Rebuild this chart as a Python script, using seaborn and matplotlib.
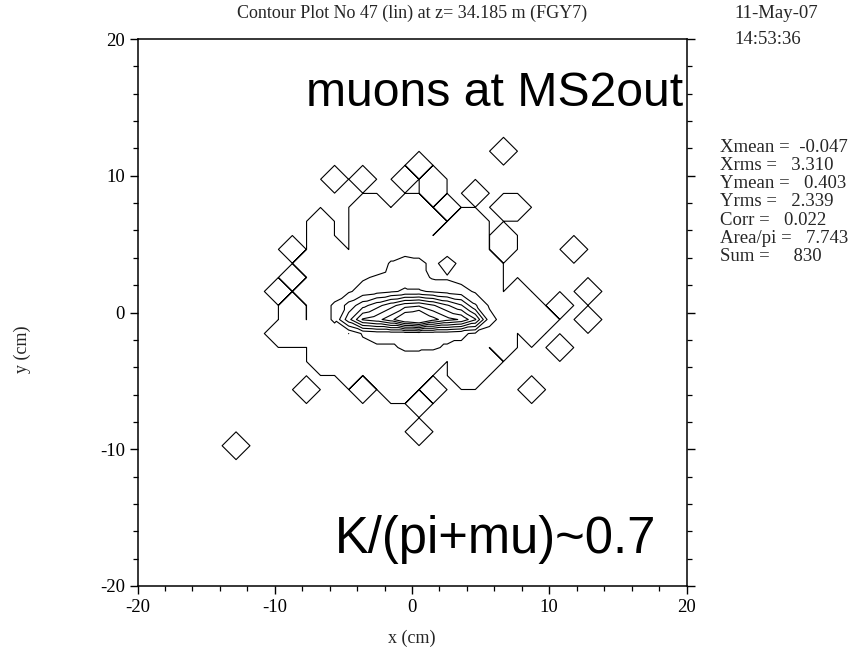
import numpy as np
import matplotlib
matplotlib.use("Agg")
import matplotlib.pyplot as plt
import matplotlib.tri as mtri
import seaborn as sns
from matplotlib.ticker import MultipleLocator

# 40 x 40 histogram, bin centres spread evenly from -20 to 20 cm
n_bins = 40
grid_min, grid_max = -20.0, 20.0

# sparse halo of single-count bins: row index -> column indices
halo_rows = {
    31: [26],
    30: [20],
    29: [14, 16, 19, 21],
    28: [21, 24],
    27: [16, 17, 19, 20, 22, 26, 27],
    26: [13, 16, 17, 18, 19, 20, 21, 23, 24],
    25: [13, 16, 17, 18, 19, 20, 22, 23, 24, 26],
    24: [11, 13, 14, 16, 17, 18, 19, 20, 21, 22, 23, 24, 26, 31],
    23: [12],
    22: [11],
    21: [10, 12, 27, 32],
    20: [11, 27, 28, 30],
    19: [11, 27, 28, 29, 32],
    18: [10, 11, 12, 28],
    17: [30],
    15: [15, 17, 18, 19, 20, 23, 24],
    14: [12, 16, 18, 19, 21, 28],
    13: [20],
    11: [20],
    10: [7],
}

# dense core of the beam spot: columns 13..26, rows 23 down to 16
core_col0 = 13
core_row_ids = [23, 22, 21, 20, 19, 18, 17, 16]
core_counts = [
    [1, 1, 1, 2, 1, 4, 6, 5, 2, 6, 2, 1, 1, 0],
    [1, 2, 2, 3, 4, 5, 6, 5, 3, 3, 2, 2, 1, 0],
    [1, 2, 3, 5, 6, 7, 8, 8, 7, 6, 5, 3, 2, 0],
    [2, 4, 9, 14, 18, 22, 26, 27, 24, 20, 16, 8, 3, 1],
    [2, 4, 14, 24, 26, 30, 37, 40, 33, 29, 27, 20, 5, 2],
    [1, 2, 0, 4, 5, 5, 5, 5, 5, 5, 4, 3, 2, 1],
    [1, 1, 2, 2, 3, 3, 4, 4, 4, 3, 3, 2, 0, 1],
    [1, 1, 1, 1, 2, 2, 2, 2, 1, 0, 1, 1, 1, 0],
]

# linear contour levels (lowest one outlines every filled bin)
contour_levels = [0.01, 3.5, 7.5, 11.5, 15.5, 19.5, 23.5, 27.5, 31.5]

title_text = "Contour Plot No 47 (lin) at z= 34.185 m (FGY7)"
date_text = "11-May-07"
time_text = "14:53:36"
stats_lines = [
    "Xmean =  -0.047",
    "Xrms =   3.310",
    "Ymean =   0.403",
    "Yrms =   2.339",
    "Corr =   0.022",
    "Area/pi =   7.743",
    "Sum =     830",
]
label_top = "muons at MS2out"
label_bottom = "K/(pi+mu)~0.7"

# ---- build the histogram array ----
counts = np.zeros((n_bins, n_bins))
for j, cols in halo_rows.items():
    for i in cols:
        counts[j, i] = 1
for j, row in zip(core_row_ids, core_counts):
    counts[j, core_col0:core_col0 + len(row)] = row

centres = np.linspace(grid_min, grid_max, n_bins)
X, Y = np.meshgrid(centres, centres)

# split every grid square into two triangles along the diagonal
# joining its two lower corners (linear interpolation per triangle)
triangles = []
for j in range(n_bins - 1):
    for i in range(n_bins - 1):
        p00 = j * n_bins + i
        p10 = p00 + 1
        p01 = p00 + n_bins
        p11 = p01 + 1
        a, b = counts[j, i], counts[j, i + 1]
        c, d = counts[j + 1, i], counts[j + 1, i + 1]
        if a + d <= b + c:
            triangles += [[p00, p10, p11], [p00, p11, p01]]
        else:
            triangles += [[p00, p10, p01], [p10, p11, p01]]
tri = mtri.Triangulation(X.ravel(), Y.ravel(), np.array(triangles))

# ---- styling ----
sns.set_theme(style="ticks")
plt.rcParams["font.family"] = ["Liberation Serif", "DejaVu Serif"]
plt.rcParams["axes.linewidth"] = 1.1
plt.rcParams["axes.unicode_minus"] = False

W, H = 857, 654
fig = plt.figure(figsize=(W / 100, H / 100), dpi=100)
fig.patch.set_facecolor("white")
ax = fig.add_axes([137.5 / W, 1 - 586 / H, 549 / W, 547 / H])
ax.set_facecolor("white")

ax.tricontour(tri, counts.ravel(), levels=contour_levels, colors="black",
              linewidths=0.8)

ax.set_xlim(-20, 20)
ax.set_ylim(-20, 20)
ax.xaxis.set_major_locator(MultipleLocator(10))
ax.xaxis.set_minor_locator(MultipleLocator(2))
ax.yaxis.set_major_locator(MultipleLocator(10))
ax.yaxis.set_minor_locator(MultipleLocator(2))
ax.tick_params(which="both", direction="out", top=False, right=True,
               left=True, bottom=True, colors="black", labelsize=13.5,
               labelright=False)
ax.tick_params(which="major", length=6, width=1.0, pad=3)
ax.tick_params(which="minor", length=3.5, width=0.9)
for sp in ax.spines.values():
    sp.set_visible(True)
    sp.set_color("black")

for lab in ax.get_xticklabels() + ax.get_yticklabels():
    lab.set_fontfamily(["Liberation Serif", "DejaVu Serif"])

ax.text(19.75, 16.05, label_top, ha="right", va="center", fontsize=34.7,
        family=["Liberation Sans", "DejaVu Sans"], color="black")
ax.text(-5.6, -16.6, label_bottom, ha="left", va="center", fontsize=36.5,
        family=["Liberation Sans", "DejaVu Sans"], color="black")


def fx(px):
    return px / W


def fy(py):
    return 1 - py / H


serif_size = 13
fig.text(fx(412), fy(13), title_text, ha="center", va="center",
         fontsize=serif_size)
fig.text(fx(734), fy(13), date_text, ha="left", va="center",
         fontsize=13.5)
fig.text(fx(734), fy(39), time_text, ha="left", va="center",
         fontsize=13.5)
for k, line in enumerate(stats_lines):
    fig.text(fx(720), fy(147 + k * 18.3), line, ha="left", va="center",
             fontsize=13.5)

fig.text(fx(412), fy(638), "x (cm)", ha="center", va="center",
         fontsize=serif_size)
fig.text(fx(22), fy(349), "y (cm)", ha="center", va="center",
         rotation=90, fontsize=serif_size)

fig.savefig("out.png", dpi=100, facecolor="white")
